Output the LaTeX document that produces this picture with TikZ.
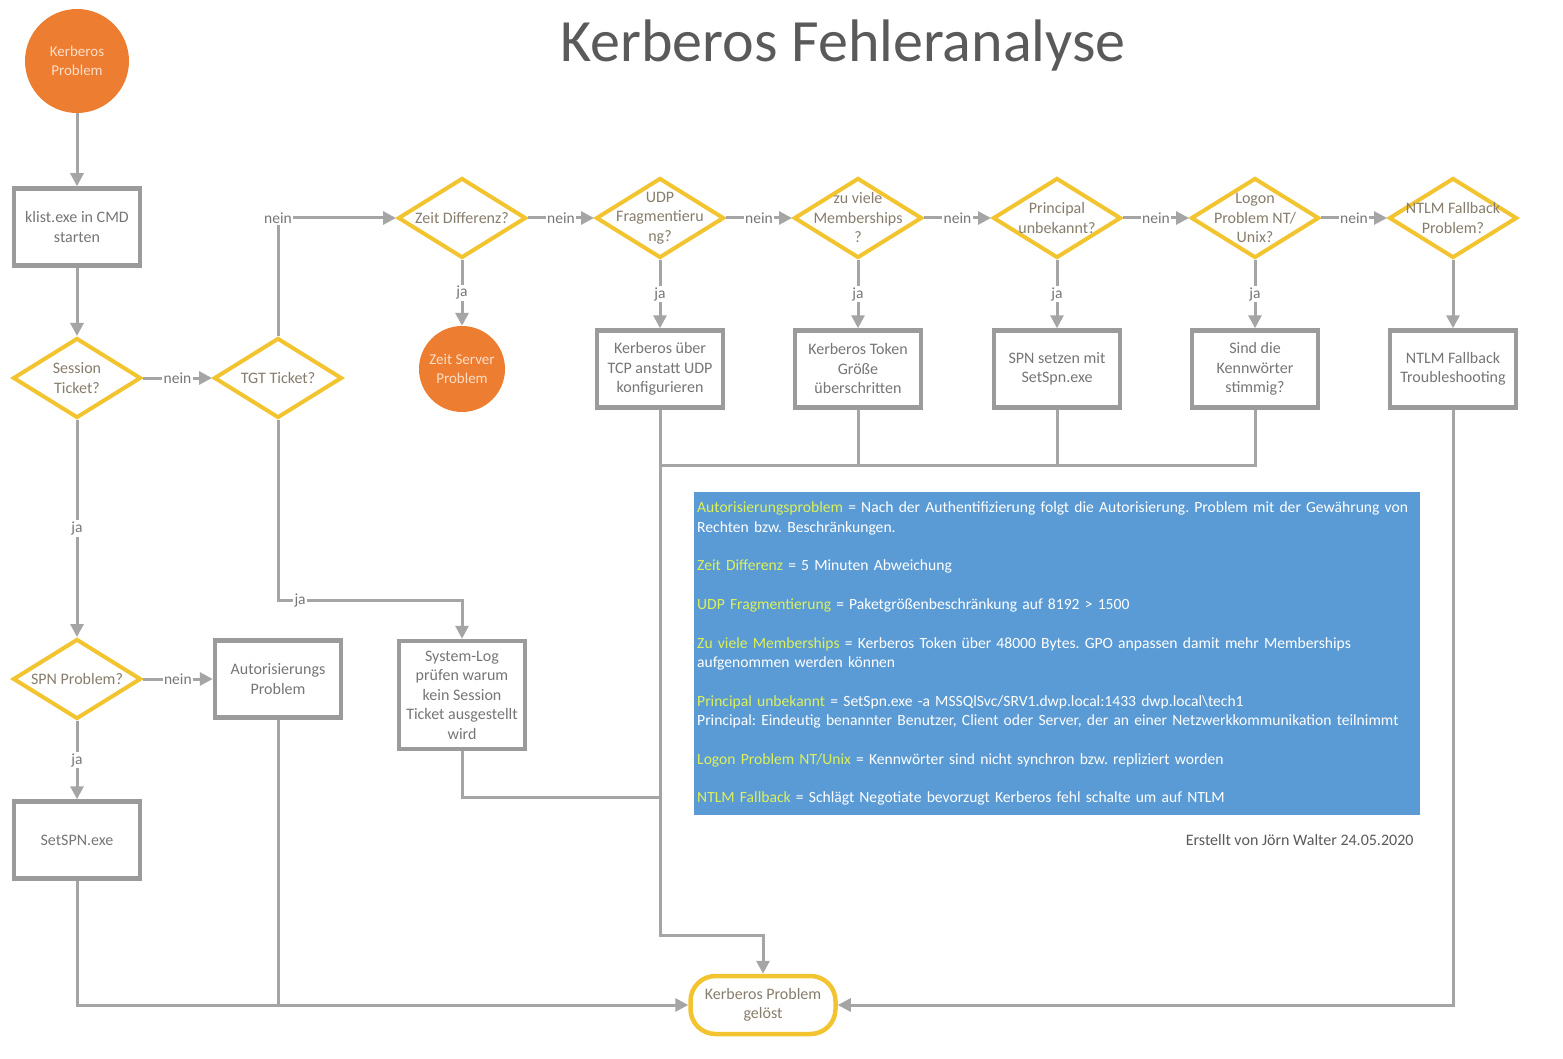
\documentclass[tikz,border=0pt]{standalone}
\usepackage{fontspec}
\setmainfont{Carlito}
\frenchspacing
\usetikzlibrary{arrows.meta,shapes.geometric}
\definecolor{lgray}{RGB}{165,165,165}
\definecolor{bgray}{RGB}{155,155,155}
\definecolor{tgray}{RGB}{118,118,118}
\definecolor{dgray}{RGB}{135,125,108}
\definecolor{gold}{RGB}{242,196,48}
\definecolor{orng}{RGB}{237,125,49}
\definecolor{ltext}{RGB}{252,222,200}
\definecolor{lblue}{RGB}{91,155,213}
\definecolor{hlc}{RGB}{220,240,90}
\definecolor{titlec}{RGB}{90,90,90}
\newcommand{\hlt}[1]{\textcolor{hlc}{#1}}
\begin{document}
\begin{tikzpicture}[x=1pt,y=-1pt,
  lin/.style={draw=lgray,line width=3pt},
  arr/.style={lin,-{Triangle[length=13pt,width=13pt]}},
  box/.style={rectangle,draw=bgray,line width=4.5pt,minimum width=126pt,minimum height=77pt,align=center,text=tgray,font=\fontsize{16}{19.5}\selectfont,inner sep=2pt},
  dec/.style={diamond,draw=gold,line width=4pt,minimum width=128pt,minimum height=80pt,inner sep=0pt},
  dectext/.style={align=center,text=dgray,font=\fontsize{16}{19.5}\selectfont},
  lbl/.style={fill=white,inner sep=1.5pt,text=tgray,font=\fontsize{15.5}{18}\selectfont},
  circ/.style={circle,fill=orng,text=ltext,align=center,font=\fontsize{15}{19}\selectfont,inner sep=0pt},
  term/.style={rectangle,rounded corners=25pt,draw=gold,line width=4.5pt,minimum width=145pt,minimum height=58pt,align=center,text=dgray,font=\fontsize{16}{19.5}\selectfont}
]
\useasboundingbox (0,0) rectangle (1563,1059);
\fill[white] (0,0) rectangle (1563,1059);

\node[anchor=base,text=titlec,font=\fontsize{60}{70}\selectfont] (title) at (843,62) {Kerberos Fehleranalyse};

% nodes
\node[circ,minimum size=104pt] (start) at (77,61) {Kerberos\\Problem};
\node[box] (klist) at (77,227) {klist.exe in CMD\\starten};
\node[dec,label={[dectext]center:{Session\\Ticket?}}] (sess) at (77,378) {};
\node[dec,label={[dectext]center:{TGT Ticket?}}] (tgt) at (278,378) {};
\node[dec,label={[dectext]center:{Zeit Differenz?}}] (zeit) at (462,218) {};
\node[circ,minimum size=86pt] (zsp) at (462,369) {Zeit Server\\Problem};
\node[dec,label={[dectext]center:{UDP\\Fragmentieru\\ng?}}] (udp) at (660,218) {};
\node[dec,label={[dectext]center:{zu viele\\Memberships\\?}}] (memb) at (858,218) {};
\node[dec,label={[dectext]center:{Principal\\unbekannt?}}] (prin) at (1057,218) {};
\node[dec,label={[dectext]center:{Logon\\Problem NT/\\Unix?}}] (logon) at (1255,218) {};
\node[dec,label={[dectext]center:{NTLM Fallback\\Problem?}}] (ntlm) at (1453,218) {};

\node[box] (tcp) at (660,369) {Kerberos über\\TCP anstatt UDP\\konfigurieren};
\node[box] (token) at (858,369) {Kerberos Token\\Größe\\überschritten};
\node[box] (spnset) at (1057,369) {SPN setzen mit\\SetSpn.exe};
\node[box] (kenn) at (1255,369) {Sind die\\Kennwörter\\stimmig?};
\node[box] (ntlmbox) at (1453,369) {NTLM Fallback\\Troubleshooting};

\node[box,minimum height=108pt] (syslog) at (462,695) {System-Log\\prüfen warum\\kein Session\\Ticket ausgestellt\\wird};
\node[dec,label={[dectext]center:{SPN Problem?}}] (spnp) at (77,679) {};
\node[box] (autor) at (278,679) {Autorisierungs\\Problem};
\node[box] (setspn) at (77,840) {SetSPN.exe};
\node[term] (ende) at (763,1005) {Kerberos Problem\\gelöst};

% helper coordinates
\coordinate (j465) at (660,465);
\coordinate (j935) at (660,935);
\coordinate (j797) at (660,797);
\coordinate (t600) at (278,600);
\coordinate (a1005) at (278,1005);

% connectors
\draw[arr] (start) -- (klist);
\draw[arr] (klist) -- (sess);
\draw[arr] (sess) -- node[lbl]{nein} (tgt);
\draw[arr] (tgt.north) |- node[lbl,pos=0.5]{nein} (zeit.west);
\draw[arr] (zeit) -- node[lbl]{ja} (zsp);
\draw[arr] (zeit) -- node[lbl]{nein} (udp);
\draw[arr] (udp) -- node[lbl]{nein} (memb);
\draw[arr] (memb) -- node[lbl]{nein} (prin);
\draw[arr] (prin) -- node[lbl]{nein} (logon);
\draw[arr] (logon) -- node[lbl]{nein} (ntlm);
\draw[arr] (udp) -- node[lbl]{ja} (tcp);
\draw[arr] (memb) -- node[lbl]{ja} (token);
\draw[arr] (prin) -- node[lbl]{ja} (spnset);
\draw[arr] (logon) -- node[lbl]{ja} (kenn);
\draw[arr] (ntlm) -- (ntlmbox);

\draw[lin] (token.south) |- (j465);
\draw[lin] (spnset.south) |- (j465);
\draw[lin] (kenn.south) |- (j465);
\draw[arr] (tcp.south) -- (j935) -| (ende.north);

\draw[arr] (tgt.south) -- (t600) -| node[lbl,pos=0.06]{ja} (syslog.north);
\draw[lin] (syslog.south) |- (j797);

\draw[arr] (sess) -- node[lbl]{ja} (spnp);
\draw[arr] (spnp) -- node[lbl]{nein} (autor);
\draw[arr] (spnp) -- node[lbl]{ja} (setspn);
\draw[arr] (setspn.south) |- (ende.west);
\draw[lin] (autor.south) -- (a1005);
\draw[arr] (ntlmbox.south) |- (ende.east);

% legend
\node[anchor=north west,fill=lblue,minimum width=726pt,minimum height=323pt,text width=720pt,inner xsep=3pt,align=left,text=white,font=\fontsize{15.6}{19.33}\selectfont] (legend) at (694,492) {%
\mbox{\hlt{Autorisierungsproblem} = Nach der Authentifizierung folgt die Autorisierung. Problem mit der Gewährung von}\\
Rechten bzw. Beschränkungen.\\[19.33pt]
\hlt{Zeit Differenz} = 5 Minuten Abweichung\\[19.33pt]
\hlt{UDP Fragmentierung} = Paketgrößenbeschränkung auf 8192 > 1500\\[19.33pt]
\mbox{\hlt{Zu viele Memberships} = Kerberos Token über 48000 Bytes. GPO anpassen damit mehr Memberships}\\
aufgenommen werden können\\[19.33pt]
\mbox{\hlt{Principal unbekannt} = SetSpn.exe -a MSSQlSvc/SRV1.dwp.local:1433 dwp.local\textbackslash tech1}\\
\mbox{Principal: Eindeutig benannter Benutzer, Client oder Server, der an einer Netzwerkkommunikation teilnimmt}\\[19.33pt]
\hlt{Logon Problem NT/Unix} = Kennwörter sind nicht synchron bzw. repliziert worden\\[19.33pt]
\hlt{NTLM Fallback} = Schlägt Negotiate bevorzugt Kerberos fehl schalte um auf NTLM};

\node[anchor=base east,text=titlec,font=\fontsize{16}{19}\selectfont] (credit) at (1417,845) {Erstellt von Jörn Walter 24.05.2020};
\end{tikzpicture}
\end{document}
